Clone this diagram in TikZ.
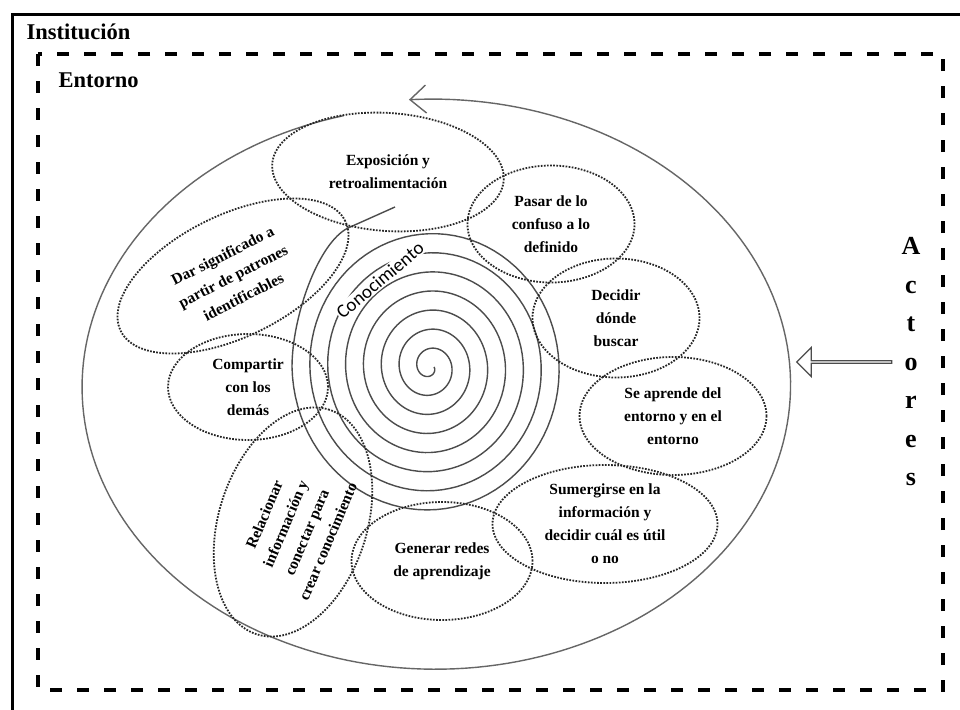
\documentclass[tikz,border=0pt]{standalone}
\usepackage{fontspec}
\setmainfont{Liberation Serif}
\newfontfamily\spiralfont{Carlito}
\usetikzlibrary{positioning,shapes.geometric,shapes.arrows,arrows.meta}

\tikzset{
  bubble/.style={ellipse, draw=black!85, dash pattern=on 1.7pt off 1.4pt, line width=1.8pt, inner sep=0pt},
  blurb/.style={font=\fontsize{15.5}{23}\selectfont\bfseries, align=center, text=black},
  ring/.style={draw=black!70, line width=1.4pt},
  heading/.style={anchor=base west, font=\fontsize{22.5}{26}\selectfont\bfseries},
}

\begin{document}
\begin{tikzpicture}[x=1pt, y=-1pt]
\useasboundingbox (0,0) rectangle (960,709);
\fill[white] (0,0) rectangle (960,709);

% marcos
\draw[line width=3pt] (12,15) rectangle (990,740);
\node[heading] (inst) at (23,40) {Institución};
\draw[line width=3.5pt, dash pattern=on 12pt off 15pt] (38,54) rectangle (943,690);
\node[heading] (ent) at (55,87) {Entorno};

% espiral exterior
\draw[ring, draw=black!60, -{Straight Barb[length=16pt,width=28pt]}]
  plot[domain=0:349, samples=200]
  ({434+359*(0.975+0.025*\x/349)*cos(255-\x)}, {386+287*(0.975+0.025*\x/349)*sin(255-\x)});

% espiral central
\draw[ring]
  plot[domain=0:2700, samples=700]
  ({430+(4+\x/2700*134)*cos(\x)}, {367+1.07*(4+\x/2700*134)*sin(\x)})
  .. controls +(0,-50) and +(-30,15) .. (348,228) -- (395,207);
\node[font=\spiralfont\fontsize{19}{20}\selectfont, rotate=40, inner sep=1pt, fill=white] (conoc) at (380,280) {Conocimiento};

% burbujas
\node[bubble, minimum width=232, minimum height=118, rotate=-4] (expo) at (388,172) {};
\node[blurb] at (expo) {Exposición y\\retroalimentación};
\node[bubble, minimum width=167, minimum height=117] (pasar) at (551,224) {};
\node[blurb] at (pasar) {Pasar de lo\\confuso a lo\\definido};
\node[bubble, minimum width=167, minimum height=119] (donde) at (616,318) {};
\node[blurb] at (donde) {Decidir\\dónde\\buscar};
\node[bubble, minimum width=187, minimum height=118] (aprende) at (673,416) {};
\node[blurb] at (aprende) {Se aprende del\\entorno y en el\\entorno};
\node[bubble, minimum width=225, minimum height=118] (sumergir) at (605,524) {};
\node[blurb] at (sumergir) {Sumergirse en la\\información y\\decidir cuál es útil\\o no};
\node[bubble, minimum width=181, minimum height=118] (redes) at (442,561) {};
\node[blurb] at (redes) {Generar redes\\de aprendizaje};
\node[bubble, minimum width=236, minimum height=148, rotate=72] (relac) at (293,522) {};
\node[blurb, rotate=67] at (296,528) {Relacionar\\información y\\conectar para\\crear conocimiento};
\node[bubble, minimum width=160, minimum height=106] (compartir) at (248,387) {};
\node[blurb] at (compartir) {Compartir\\con los\\demás};
\node[bubble, minimum width=250, minimum height=122, rotate=26] (dar) at (233,276) {};
\node[blurb, rotate=27] at (dar) {Dar significado a\\partir de patrones\\identificables};

% actores
\node[font=\fontsize{26}{38.5}\selectfont\bfseries, align=center, inner sep=0pt] (actores) at (911,362) {A\\c\\t\\o\\r\\e\\s};
\node[single arrow, draw=black!70, line width=1.3pt, shape border rotate=180,
  minimum height=95pt, minimum width=29pt, single arrow head extend=7pt,
  single arrow tip angle=90, inner sep=0pt, left=9pt of actores] (flecha) {};
\end{tikzpicture}
\end{document}
